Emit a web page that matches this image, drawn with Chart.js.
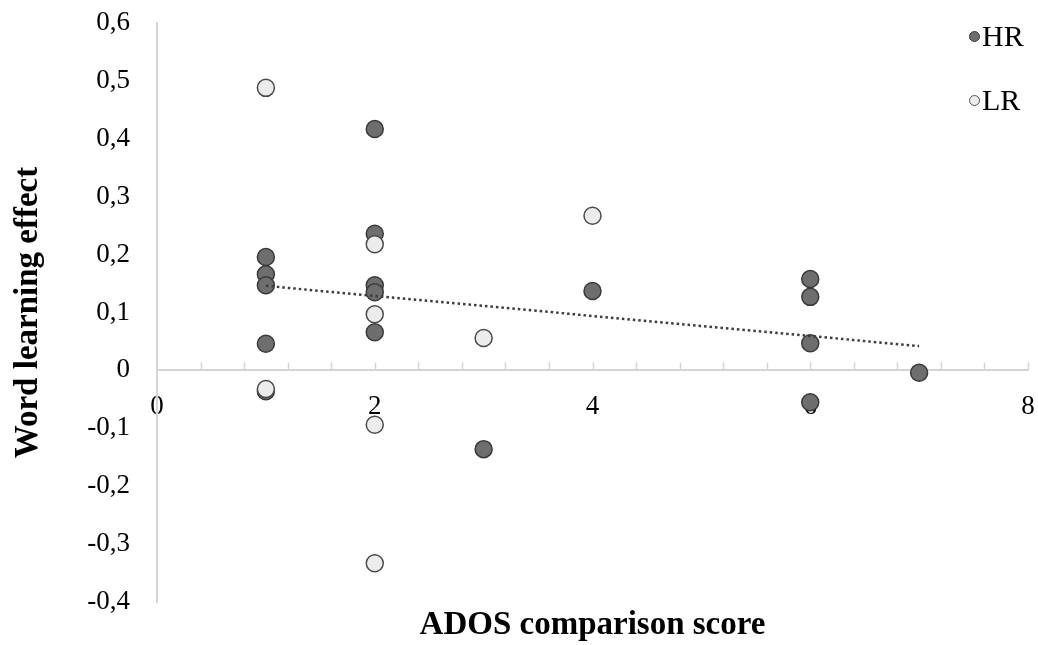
<!DOCTYPE html>
<html>
<head>
<meta charset="utf-8">
<title>Word learning effect vs ADOS comparison score</title>
<script src="https://cdn.jsdelivr.net/npm/chart.js@4.4.0/dist/chart.umd.min.js"></script>
<style>
    html, body { margin: 0; padding: 0; background: #fff; }
    #wrap { position: relative; width: 1038px; height: 645px; }
    .legend-item {
        position: absolute;
        left: 969px;
        display: flex;
        align-items: center;
        font-family: 'Liberation Serif', 'Times New Roman', serif;
        font-size: 30px;
        color: #000;
        line-height: 1;
    }
    .legend-dot {
        width: 11px;
        height: 11px;
        border-radius: 50%;
        margin-right: 2px;
        box-sizing: border-box;
    }
</style>
</head>
<body>
<div id="wrap">
    <canvas id="chart" width="1038" height="645"></canvas>
    <div class="legend-item" style="top:21px"><span class="legend-dot" style="background:#6e6e6e;border:1.5px solid #3a3a3a"></span>HR</div>
    <div class="legend-item" style="top:85px"><span class="legend-dot" style="background:#ececec;border:1.5px solid #555"></span>LR</div>
</div>
<script>
// Data
const hrX = [1, 1, 1, 1, 1, 2, 2, 2, 2, 2, 3, 4, 6, 6, 6, 6, 7];
const hrY = [0.196, 0.166, 0.147, 0.046, -0.036, 0.417, 0.236, 0.147, 0.135, 0.066, -0.136, 0.137, 0.158, 0.127, 0.047, -0.055, -0.004];

const lrX = [1, 1, 2, 2, 2, 2, 3, 4];
const lrY = [0.488, -0.032, 0.218, 0.097, -0.094, -0.333, 0.056, 0.267];

// Linear trendline (start / end as drawn)
const trendX = [1, 7];
const trendY = [0.146, 0.042];

// Axis ticks
const xTickValues = [0, 2, 4, 6, 8];
const xTickLabels = ['0', '2', '4', '6', '8'];
const yTickValues = [-0.4, -0.3, -0.2, -0.1, 0, 0.1, 0.2, 0.3, 0.4, 0.5, 0.6];
const yTickLabels = ['-0,4', '-0,3', '-0,2', '-0,1', '0', '0,1', '0,2', '0,3', '0,4', '0,5', '0,6'];

const serif = "'Liberation Serif', 'Times New Roman', serif";
const axisGray = '#d4d4d4';

const toPoints = (xs, ys) => xs.map((x, i) => ({ x: x, y: ys[i] }));

// Small tick marks pointing up from the zero line, every 0.4
const xTickMarks = {
    id: 'xTickMarks',
    beforeDatasetsDraw(chart) {
        const xs = chart.scales.x;
        const y0 = chart.scales.y.getPixelForValue(0);
        const ctx = chart.ctx;
        ctx.save();
        ctx.strokeStyle = axisGray;
        ctx.lineWidth = 1.5;
        xs.ticks.forEach(t => {
            if (t.value === 0) return;
            const px = Math.round(xs.getPixelForValue(t.value)) + 0.5;
            ctx.beginPath();
            ctx.moveTo(px, y0);
            ctx.lineTo(px, y0 - 8);
            ctx.stroke();
        });
        ctx.restore();
    }
};

const ctx = document.getElementById('chart').getContext('2d');
new Chart(ctx, {
    type: 'scatter',
    data: {
        datasets: [
            {
                label: 'Trend',
                data: toPoints(trendX, trendY),
                showLine: true,
                borderColor: '#3c3c3c',
                borderWidth: 2.5,
                borderDash: [2.5, 3],
                pointRadius: 0,
                order: 0,
                xAxisID: 'x'
            },
            {
                label: 'LR',
                data: toPoints(lrX, lrY),
                backgroundColor: '#ececec',
                borderColor: '#4a4a4a',
                borderWidth: 1.5,
                pointRadius: 8.5,
                order: 1,
                xAxisID: 'x'
            },
            {
                label: 'HR',
                data: toPoints(hrX, hrY),
                backgroundColor: '#6e6e6e',
                borderColor: '#3a3a3a',
                borderWidth: 1.5,
                pointRadius: 8.5,
                order: 2,
                xAxisID: 'x'
            }
        ]
    },
    options: {
        responsive: false,
        animation: false,
        layout: { padding: { left: 0, right: 9, top: 23, bottom: 0 } },
        plugins: {
            legend: { display: false },
            tooltip: { enabled: false }
        },
        scales: {
            x: {
                type: 'linear',
                position: { y: 0 },
                min: 0,
                max: 8,
                grid: { display: false, drawTicks: false },
                border: { display: true, color: axisGray, width: 2 },
                ticks: {
                    stepSize: 0.4,
                    autoSkip: false,
                    maxRotation: 0,
                    padding: 20,
                    color: '#000',
                    font: { family: serif, size: 27 },
                    callback: (value) => {
                        const i = xTickValues.findIndex(v => Math.abs(v - value) < 1e-6);
                        return i >= 0 ? xTickLabels[i] : '';
                    }
                },
                afterFit: (s) => {
                    s.height = 0;
                    s.paddingLeft = 0;
                    s.paddingRight = 0;
                }
            },
            xTitle: {
                type: 'linear',
                axis: 'x',
                position: 'bottom',
                min: 0,
                max: 8,
                grid: { display: false, drawTicks: false },
                border: { display: false },
                ticks: { display: false },
                title: {
                    display: true,
                    text: 'ADOS comparison score',
                    color: '#000',
                    font: { family: serif, size: 33, weight: 'bold' },
                    padding: { top: 0, bottom: 0 }
                },
                afterFit: (s) => {
                    s.height = 43;
                    s.paddingLeft = 0;
                    s.paddingRight = 0;
                }
            },
            y: {
                type: 'linear',
                min: -0.4,
                max: 0.6,
                grid: { display: false, drawTicks: false },
                border: { display: true, color: axisGray, width: 2 },
                afterBuildTicks: (s) => { s.ticks = yTickValues.map(v => ({ value: v })); },
                ticks: {
                    padding: 27,
                    color: '#000',
                    font: { family: serif, size: 27 },
                    callback: (value, index) => yTickLabels[index]
                },
                title: {
                    display: true,
                    text: 'Word learning effect',
                    color: '#000',
                    font: { family: serif, size: 33, weight: 'bold' },
                    padding: { top: 9, bottom: 0 }
                },
                afterFit: (s) => {
                    s.width = 157;
                    s.paddingTop = 0;
                    s.paddingBottom = 0;
                }
            }
        }
    },
    plugins: [xTickMarks]
});
</script>
</body>
</html>
